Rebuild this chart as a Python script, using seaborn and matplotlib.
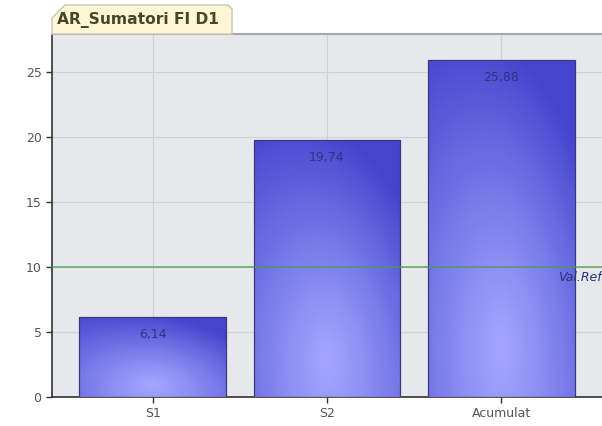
import numpy as np
import pandas as pd
import matplotlib
matplotlib.use("Agg")
import matplotlib.pyplot as plt
import seaborn as sns
from matplotlib.patches import Polygon

categories = ["S1", "S2", "Acumulat"]
values = [6.14, 19.74, 25.88]
ref_value = 10
ref_label = "Val.Ref"
title = "AR_Sumatori FI D1"
yticks = [0, 5, 10, 15, 20, 25]

df = pd.DataFrame({"cat": categories, "val": values})

W, H = 602, 426
fig = plt.figure(figsize=(W / 100, H / 100), dpi=100)
fig.patch.set_facecolor("white")

def fx(px):
    return px / W

def fy(py):
    return 1 - py / H

ax = fig.add_axes([fx(52), fy(397), fx(603) - fx(52), fy(34) - fy(397)])
ax.set_facecolor("#e7e8ec")

sns.barplot(data=df, x="cat", y="val", ax=ax, width=0.84, color="#6a6ae0",
            edgecolor="#3a3a7a", linewidth=0.9, zorder=3)

ax.set_xlim(-0.577, 2.583)
ax.set_ylim(0, 27.9)
ax.set_yticks(yticks)
ax.set_xlabel("")
ax.set_ylabel("")

# gradient fill for bars
light = np.array([0.64, 0.64, 1.0])
dark = np.array([0.27, 0.27, 0.81])
for p in ax.patches:
    x0, y0 = p.get_x(), p.get_y()
    w, h = p.get_width(), p.get_height()
    nx, ny = 120, 200
    xs = np.linspace(0, 1, nx)
    ys = np.linspace(0, 1, ny)
    X, Y = np.meshgrid(xs, ys)
    d = np.sqrt(((X - 0.5) / 0.9) ** 2 + ((Y - 0.15) / 1.0) ** 2)
    t = np.clip(d + 0.3 * X * Y - 0.05, 0, 1) ** 1.1
    img = light[None, None, :] * (1 - t[..., None]) + dark[None, None, :] * t[..., None]
    im = ax.imshow(img, extent=[x0, x0 + w, y0, y0 + h], origin="lower",
                   aspect="auto", zorder=3.5, interpolation="bilinear")
    im.set_clip_path(p)
    p.set_facecolor("none")
    p.set_zorder(4)

ax.set_xlim(-0.577, 2.583)
ax.set_ylim(0, 27.9)

# value labels
for i, v in enumerate(values):
    ax.text(i, v - 1.3, f"{v:.2f}".replace(".", ","), ha="center", va="center",
            fontsize=9, color="#33337f", zorder=6)

# reference line
ax.axhline(ref_value, color="#4f9a4f", lw=1.1, alpha=0.85, zorder=5)
ax.text(2.578, ref_value - 0.35, ref_label, ha="right", va="top", fontsize=9,
        style="italic", color="#25337a", zorder=6)

ax.grid(True, color="#cfd1d6", lw=0.8, zorder=0)
ax.set_axisbelow(True)

ax.spines["right"].set_visible(False)
ax.spines["top"].set_color("#a8a8a8")
ax.spines["top"].set_linewidth(1.5)
ax.spines["left"].set_color("#333333")
ax.spines["bottom"].set_color("#333333")
ax.spines["left"].set_linewidth(1.2)
ax.spines["bottom"].set_linewidth(1.2)
ax.tick_params(axis="both", colors="#333333", labelcolor="#555555",
               labelsize=9, length=4, width=1)

# title tab
tab = Polygon([(fx(52), fy(34)), (fx(52), fy(18)), (fx(65), fy(5)),
               (fx(228), fy(5)), (fx(232), fy(9)), (fx(232), fy(34))],
              closed=True, transform=fig.transFigure, facecolor="#fdf7d6",
              edgecolor="#c9c6b8", lw=1, zorder=10)
fig.add_artist(tab)
fig.text(fx(57), fy(20), title, ha="left", va="center", fontsize=11.2,
         fontweight="bold", color="#4a4528", zorder=11)

fig.savefig("out.png", dpi=100)
